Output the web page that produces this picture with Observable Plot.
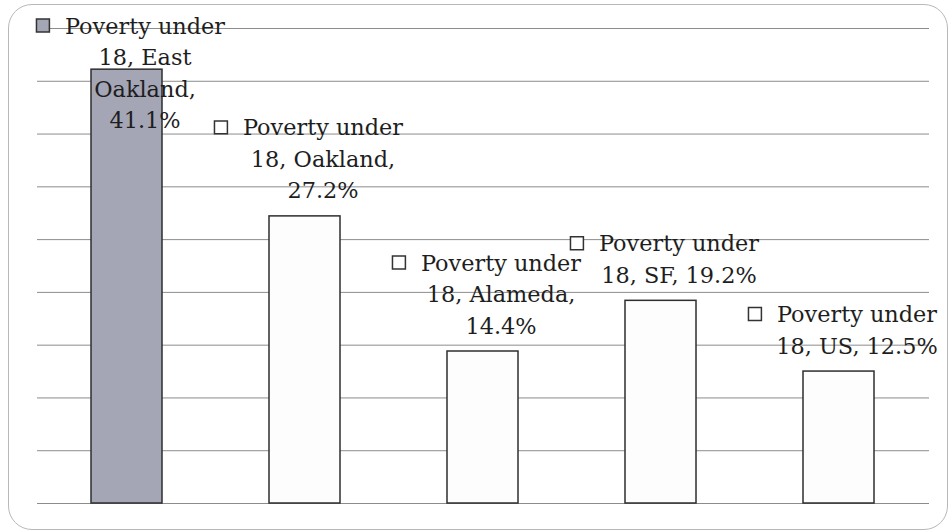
<!DOCTYPE html>
<html>
<head>
<meta charset="utf-8">
<script src="https://cdn.jsdelivr.net/npm/d3@7"></script>
<script src="https://cdn.jsdelivr.net/npm/@observablehq/plot@0.6"></script>
<style>
  html, body { margin: 0; padding: 0; background: #ffffff; }
  #wrap { position: relative; width: 948px; height: 531px; overflow: hidden; }
  #border { position: absolute; left: 8px; top: 4px; width: 940px; height: 526px;
            border: 1.5px solid #b8b8b8; border-radius: 24px; box-sizing: border-box; }
  #chart { position: absolute; left: 0; top: 0; }
</style>
</head>
<body>
<div id="wrap"><div id="border"></div><div id="chart"></div></div>
<script>
const categories = ["East Oakland", "Oakland", "Alameda", "SF", "US"];
const values = [41.1, 27.2, 14.4, 19.2, 12.5];
const labelLines = [
  ["Poverty under", "18, East", "Oakland,", "41.1%"],
  ["Poverty under", "18, Oakland,", "27.2%"],
  ["Poverty under", "18, Alameda,", "14.4%"],
  ["Poverty under", "18, SF, 19.2%"],
  ["Poverty under", "18, US, 12.5%"]
];
const gridTicks = [0, 5, 10, 15, 20, 25, 30, 35, 40, 45];
const highlighted = ["East Oakland"];

const data = categories.map((c, i) => ({category: c, value: values[i], label: labelLines[i].join("\n"), n: labelLines[i].length}));

const FONT = "DejaVu Serif";
const FS = 22.4;
const LHPX = 31.5;
const LH = LHPX / FS;
const cv = document.createElement("canvas").getContext("2d");
cv.font = `${FS}px "${FONT}"`;
const halfW = cv.measureText("Poverty under").width / 2;

const yMax = d3.max(gridTicks);
const marginTop = 28;
const TEXT_DX = 18;
const KEY_DX = TEXT_DX - halfW - 22;

const marks = [
  Plot.ruleY(gridTicks, {stroke: "#8c8c8c", strokeWidth: 1}),
  Plot.barY(data, {x: "category", y: "value",
    fill: d => highlighted.includes(d.category) ? "#a4a6b6" : "#fdfdfd",
    stroke: "#2e2e2e", strokeWidth: 1.5})
];

data.forEach((d, i) => {
  // labels that would overflow the top are pinned to the top of the plot area
  const fits = (yMax - d.value) * (475 / yMax) > (d.n - 1) * LHPX + 40;
  const textDy = fits ? -18 : (33 - marginTop) + (d.n - 1) * LHPX;
  const keyDy = textDy - (d.n - 1) * LHPX - 8;
  const yAcc = fits ? "value" : () => yMax;
  marks.push(
    Plot.text([d], {x: "category", y: yAcc, text: "label", lineAnchor: "bottom",
      lineHeight: LH, dx: TEXT_DX, dy: textDy, fill: "#1e1e1e",
      fontFamily: FONT, fontSize: FS}),
    Plot.dot([d], {x: "category", y: yAcc, symbol: "square", r: 7.3,
      dx: KEY_DX, dy: keyDy,
      fill: highlighted.includes(d.category) ? "#a4a6b6" : "#ffffff",
      stroke: "#333333", strokeWidth: 1.5})
  );
});

const chart = Plot.plot({
  width: 948,
  height: 531,
  marginLeft: 37,
  marginRight: 19,
  marginTop: marginTop,
  marginBottom: 28,
  style: {background: "transparent", fontFamily: FONT},
  x: {domain: categories, paddingInner: 0.6, paddingOuter: 0.3, axis: null},
  y: {domain: [0, yMax], axis: null},
  marks
});
document.getElementById("chart").appendChild(chart);
</script>
</body>
</html>
